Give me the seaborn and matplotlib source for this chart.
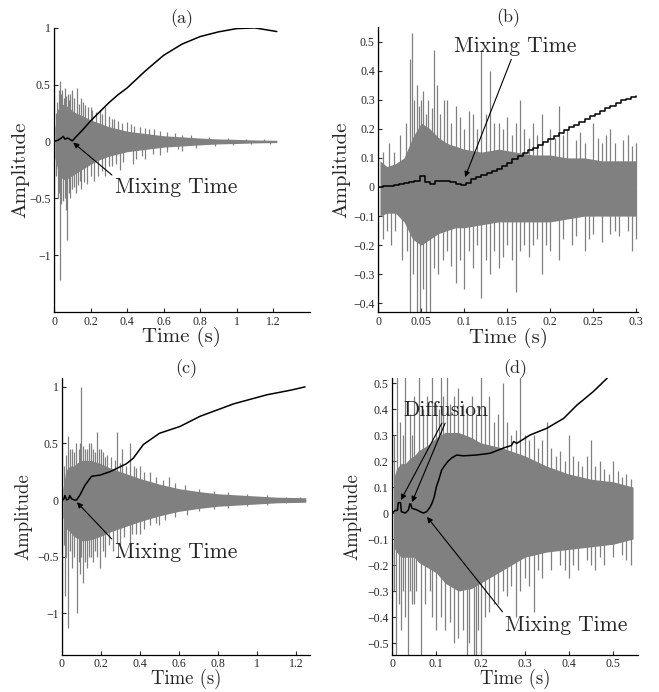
# Room impulse responses with mixing time curves (four panels)
import numpy as np
import pandas as pd
import matplotlib.pyplot as plt
import seaborn as sns

# ---------------- DATA ----------------

# (a) impulse response: dense core envelope
env_a_t = [0.005, 0.02, 0.04, 0.06, 0.08, 0.10, 0.12, 0.15, 0.20, 0.25, 0.30, 0.35, 0.40,
           0.45, 0.50, 0.60, 0.70, 0.80, 0.90, 1.00, 1.10, 1.22]
env_a_hi = [0.12, 0.28, 0.33, 0.32, 0.30, 0.27, 0.25, 0.23, 0.19, 0.16, 0.13, 0.11, 0.09,
            0.08, 0.07, 0.05, 0.04, 0.03, 0.022, 0.018, 0.013, 0.01]
env_a_lo = [-0.15, -0.25, -0.32, -0.34, -0.32, -0.30, -0.28, -0.25, -0.20, -0.16, -0.13, -0.11, -0.09,
            -0.08, -0.07, -0.05, -0.04, -0.03, -0.022, -0.018, -0.013, -0.01]
# (a) single peaks above and below
up_a_t = [0.0, 0.01, 0.015, 0.025, 0.03, 0.033, 0.04, 0.045, 0.052, 0.06, 0.068, 0.075, 0.082,
          0.09, 0.1, 0.11, 0.125, 0.135, 0.145, 0.16, 0.17, 0.185, 0.2, 0.21, 0.23, 0.25, 0.26,
          0.28, 0.3, 0.32, 0.33, 0.35, 0.37, 0.4, 0.42, 0.44, 0.47, 0.5, 0.52, 0.55, 0.58, 0.62,
          0.66, 0.7, 0.75, 0.85, 0.95, 1.05, 1.15]
up_a_v = [1.0, 0.25, 0.35, 0.45, 0.4, 0.53, 0.42, 0.45, 0.38, 0.47, 0.4, 0.42, 0.36,
          0.42, 0.45, 0.38, 0.47, 0.33, 0.38, 0.35, 0.32, 0.3, 0.3, 0.28, 0.26, 0.28, 0.24,
          0.3, 0.22, 0.2, 0.2, 0.18, 0.16, 0.17, 0.15, 0.14, 0.13, 0.12, 0.11, 0.11, 0.09, 0.08,
          0.07, 0.06, 0.055, 0.04, 0.03, 0.025, 0.02]
dn_a_t = [0.0, 0.01, 0.02, 0.025, 0.035, 0.04, 0.05, 0.058, 0.065, 0.07, 0.08, 0.09, 0.1,
          0.11, 0.12, 0.13, 0.14, 0.15, 0.165, 0.18, 0.2, 0.22, 0.24, 0.26, 0.28, 0.3, 0.32,
          0.34, 0.36, 0.38, 0.43, 0.45, 0.48, 0.5, 0.54, 0.58, 0.62, 0.68, 0.7, 0.78, 0.88,
          0.98, 1.08, 1.18]
dn_a_v = [-1.55, -0.3, -0.5, -0.45, -1.22, -0.55, -0.52, -0.5, -0.6, -0.87, -0.45, -0.5, -0.42,
          -0.4, -0.45, -0.38, -0.35, -0.42, -0.36, -0.37, -0.3, -0.35, -0.3, -0.26, -0.3, -0.22, -0.22,
          -0.2, -0.25, -0.18, -0.2, -0.15, -0.13, -0.15, -0.11, -0.12, -0.09, -0.07, -0.08, -0.055, -0.04,
          -0.03, -0.025, -0.02]
# (a) mixing curve
curve_a_t = [0, 0.02, 0.04, 0.05, 0.06, 0.075, 0.09, 0.1, 0.12, 0.15, 0.2, 0.25, 0.3, 0.35,
             0.4, 0.5, 0.6, 0.7, 0.8, 0.9, 1.0, 1.1, 1.22]
curve_a_v = [0, 0.01, 0.03, 0.045, 0.02, 0.03, 0.015, 0.005, 0.04, 0.09, 0.18, 0.26, 0.34, 0.41,
             0.47, 0.62, 0.757, 0.855, 0.922, 0.963, 0.992, 0.998, 0.966]

# (b) first 0.3 s
env_b_t = [0.002, 0.01, 0.02, 0.03, 0.04, 0.05, 0.06, 0.07, 0.08, 0.09, 0.10, 0.12, 0.14,
           0.16, 0.18, 0.20, 0.22, 0.24, 0.26, 0.28, 0.30]
env_b_hi = [0.09, 0.07, 0.08, 0.10, 0.17, 0.22, 0.20, 0.17, 0.15, 0.14, 0.13, 0.12, 0.13,
            0.12, 0.11, 0.11, 0.10, 0.10, 0.09, 0.09, 0.09]
env_b_lo = [-0.10, -0.09, -0.09, -0.12, -0.18, -0.20, -0.18, -0.16, -0.15, -0.14, -0.14, -0.13, -0.12,
            -0.12, -0.12, -0.12, -0.11, -0.10, -0.10, -0.10, -0.10]
up_b_t = [0.0, 0.005, 0.012, 0.018, 0.025, 0.032, 0.037, 0.039, 0.042, 0.045, 0.047, 0.05,
          0.052, 0.055, 0.058, 0.062, 0.065, 0.068, 0.072, 0.076, 0.08, 0.085, 0.09, 0.095,
          0.1, 0.105, 0.11, 0.115, 0.12, 0.125, 0.13, 0.135, 0.14, 0.145, 0.15, 0.155, 0.16,
          0.165, 0.17, 0.175, 0.18, 0.185, 0.19, 0.2, 0.205, 0.21, 0.215, 0.22, 0.23, 0.235,
          0.24, 0.25, 0.255, 0.26, 0.265, 0.27, 0.275, 0.285, 0.29, 0.295, 0.3]
up_b_v = [0.6, 0.12, 0.15, 0.12, 0.18, 0.22, 0.44, 0.53, 0.3, 0.35, 0.28, 0.3,
          0.33, 0.25, 0.3, 0.27, 0.47, 0.35, 0.25, 0.3, 0.3, 0.22, 0.28, 0.24,
          0.2, 0.26, 0.25, 0.2, 0.47, 0.25, 0.4, 0.22, 0.22, 0.2, 0.24, 0.18, 0.22,
          0.3, 0.2, 0.17, 0.22, 0.18, 0.25, 0.2, 0.17, 0.28, 0.18, 0.2, 0.16, 0.19,
          0.15, 0.22, 0.17, 0.15, 0.18, 0.2, 0.15, 0.16, 0.18, 0.14, 0.15]
dn_b_t = [0.0, 0.005, 0.01, 0.015, 0.02, 0.028, 0.033, 0.037, 0.04, 0.045, 0.048, 0.052,
          0.055, 0.06, 0.065, 0.07, 0.075, 0.08, 0.085, 0.09, 0.095, 0.1, 0.105, 0.11, 0.115,
          0.12, 0.125, 0.13, 0.135, 0.14, 0.145, 0.15, 0.155, 0.16, 0.165, 0.17, 0.175, 0.18,
          0.185, 0.19, 0.195, 0.2, 0.21, 0.215, 0.225, 0.23, 0.24, 0.245, 0.25, 0.26, 0.27,
          0.275, 0.28, 0.29, 0.295, 0.3]
dn_b_v = [-0.5, -0.18, -0.15, -0.2, -0.15, -0.25, -0.22, -0.5, -0.3, -0.5, -0.5, -0.35,
          -0.5, -0.5, -0.28, -0.3, -0.25, -0.22, -0.27, -0.33, -0.25, -0.35, -0.22, -0.28, -0.2,
          -0.38, -0.25, -0.3, -0.22, -0.28, -0.24, -0.2, -0.25, -0.36, -0.22, -0.2, -0.24, -0.2,
          -0.18, -0.3, -0.2, -0.22, -0.25, -0.18, -0.2, -0.17, -0.22, -0.18, -0.16, -0.19, -0.16,
          -0.15, -0.17, -0.15, -0.22, -0.18]
curve_b_t = [0, 0.006, 0.012, 0.018, 0.024, 0.030, 0.036, 0.042, 0.048, 0.054, 0.060, 0.066,
             0.072, 0.078, 0.084, 0.090, 0.096, 0.102, 0.108, 0.114, 0.120, 0.126, 0.132,
             0.138, 0.144, 0.150, 0.156, 0.162, 0.168, 0.174, 0.180, 0.186, 0.192, 0.198,
             0.204, 0.210, 0.216, 0.222, 0.228, 0.234, 0.240, 0.246, 0.252, 0.258, 0.264,
             0.270, 0.276, 0.282, 0.288, 0.294, 0.300]
curve_b_v = [0, 0.003, 0.005, 0.008, 0.010, 0.013, 0.016, 0.020, 0.038, 0.018, 0.010, 0.020,
             0.022, 0.020, 0.018, 0.012, 0.006, 0.014, 0.026, 0.034, 0.041, 0.048, 0.055,
             0.062, 0.072, 0.082, 0.095, 0.106, 0.116, 0.126, 0.135, 0.145, 0.156, 0.166,
             0.175, 0.185, 0.196, 0.206, 0.214, 0.224, 0.234, 0.243, 0.252, 0.262, 0.272,
             0.280, 0.290, 0.298, 0.303, 0.308, 0.314]

# (c) second response
env_c_t = [0.005, 0.02, 0.04, 0.06, 0.08, 0.10, 0.12, 0.15, 0.20, 0.25, 0.30, 0.35, 0.40,
           0.50, 0.60, 0.70, 0.80, 0.90, 1.00, 1.10, 1.25]
env_c_hi = [0.10, 0.26, 0.30, 0.30, 0.33, 0.35, 0.35, 0.35, 0.32, 0.28, 0.25, 0.22, 0.19,
            0.14, 0.10, 0.075, 0.055, 0.045, 0.035, 0.025, 0.02]
env_c_lo = [-0.15, -0.25, -0.28, -0.32, -0.34, -0.36, -0.36, -0.35, -0.32, -0.28, -0.25, -0.22, -0.19,
            -0.14, -0.10, -0.075, -0.055, -0.045, -0.035, -0.025, -0.02]
up_c_t = [0.0, 0.01, 0.02, 0.03, 0.04, 0.05, 0.06, 0.07, 0.085, 0.095, 0.1, 0.11, 0.12,
          0.13, 0.14, 0.15, 0.16, 0.17, 0.178, 0.19, 0.2, 0.21, 0.22, 0.23, 0.25, 0.27, 0.283,
          0.3, 0.31, 0.33, 0.35, 0.37, 0.38, 0.4, 0.42, 0.45, 0.48, 0.52, 0.55, 0.58, 0.63,
          0.7, 0.78, 0.85, 0.95, 1.05, 1.15, 1.22]
up_c_v = [1.08, 0.3, 0.4, 0.57, 0.45, 0.45, 0.42, 0.5, 0.45, 0.5, 1.0, 0.48, 0.45,
          0.45, 0.5, 0.5, 0.45, 0.42, 0.6, 0.45, 0.45, 0.42, 0.38, 0.4, 0.38, 0.35, 0.6,
          0.33, 0.45, 0.3, 0.5, 0.3, 0.28, 0.3, 0.25, 0.25, 0.2, 0.18, 0.2, 0.15, 0.13,
          0.1, 0.08, 0.07, 0.05, 0.04, 0.03, 0.03]
dn_c_t = [0.0, 0.01, 0.015, 0.02, 0.032, 0.04, 0.05, 0.06, 0.075, 0.085, 0.09, 0.1, 0.11,
          0.12, 0.13, 0.14, 0.15, 0.16, 0.17, 0.18, 0.195, 0.21, 0.22, 0.24, 0.26, 0.28, 0.3,
          0.32, 0.35, 0.36, 0.38, 0.4, 0.42, 0.45, 0.48, 0.5, 0.53, 0.58, 0.64, 0.7, 0.78,
          0.85, 0.95, 1.05, 1.15]
dn_c_v = [-1.4, -0.4, -0.85, -0.5, -1.13, -0.45, -0.6, -0.5, -1.0, -0.55, -0.65, -0.5, -0.73,
          -0.55, -0.6, -0.5, -0.5, -0.55, -0.45, -0.5, -0.6, -0.45, -0.5, -0.4, -0.45, -0.38, -0.4,
          -0.33, -0.4, -0.3, -0.3, -0.3, -0.26, -0.22, -0.2, -0.22, -0.18, -0.15, -0.13, -0.1, -0.08,
          -0.07, -0.05, -0.04, -0.03]
curve_c_t = [0, 0.01, 0.015, 0.024, 0.035, 0.04, 0.05, 0.065, 0.075, 0.092, 0.118, 0.152,
             0.195, 0.246, 0.33, 0.366, 0.417, 0.5, 0.605, 0.708, 0.88, 1.05, 1.17, 1.246]
curve_c_v = [0, 0.01, 0.04, 0.0, 0.01, 0.04, 0.01, 0.0, 0.0, 0.044, 0.13, 0.21,
             0.22, 0.25, 0.32, 0.37, 0.49, 0.59, 0.65, 0.74, 0.85, 0.93, 0.97, 1.0]

# (d) first 0.55 s of second response
env_d_t = [0.003, 0.01, 0.02, 0.03, 0.04, 0.05, 0.06, 0.08, 0.10, 0.12, 0.15, 0.18, 0.20,
           0.25, 0.30, 0.35, 0.40, 0.45, 0.50, 0.545]
env_d_hi = [0.13, 0.17, 0.19, 0.19, 0.21, 0.22, 0.24, 0.26, 0.29, 0.31, 0.31, 0.29, 0.27,
            0.25, 0.22, 0.18, 0.15, 0.13, 0.12, 0.10]
env_d_lo = [-0.13, -0.15, -0.17, -0.17, -0.17, -0.17, -0.19, -0.21, -0.23, -0.27, -0.30, -0.29, -0.27,
            -0.22, -0.17, -0.15, -0.14, -0.13, -0.12, -0.10]
up_d_t = [0.0, 0.005, 0.012, 0.018, 0.025, 0.03, 0.04, 0.045, 0.05, 0.06, 0.07, 0.08, 0.09,
          0.1, 0.105, 0.11, 0.115, 0.125, 0.13, 0.14, 0.15, 0.16, 0.17, 0.18, 0.19, 0.2, 0.21,
          0.22, 0.23, 0.24, 0.25, 0.26, 0.27, 0.28, 0.29, 0.3, 0.31, 0.32, 0.33, 0.34, 0.35,
          0.36, 0.37, 0.38, 0.39, 0.4, 0.41, 0.42, 0.43, 0.44, 0.45, 0.46, 0.47, 0.48, 0.49,
          0.5, 0.51, 0.52, 0.53, 0.54]
up_d_v = [0.6, 0.3, 0.6, 0.35, 0.3, 0.6, 0.38, 0.3, 0.45, 0.6, 0.4, 0.45, 0.6,
          0.42, 0.4, 0.6, 0.45, 0.55, 0.42, 0.45, 0.48, 0.42, 0.4, 0.45, 0.38, 0.6, 0.4,
          0.45, 0.35, 0.38, 0.5, 0.35, 0.3, 0.32, 0.6, 0.3, 0.28, 0.3, 0.25, 0.28, 0.35,
          0.25, 0.22, 0.24, 0.2, 0.3, 0.22, 0.2, 0.18, 0.22, 0.28, 0.18, 0.2, 0.17, 0.15,
          0.2, 0.16, 0.14, 0.15, 0.13]
dn_d_t = [0.0, 0.005, 0.008, 0.015, 0.02, 0.025, 0.03, 0.035, 0.04, 0.045, 0.05, 0.055,
          0.065, 0.075, 0.085, 0.09, 0.1, 0.11, 0.12, 0.13, 0.14, 0.15, 0.16, 0.17, 0.175,
          0.185, 0.19, 0.195, 0.2, 0.21, 0.22, 0.23, 0.24, 0.25, 0.26, 0.27, 0.28, 0.29, 0.3,
          0.31, 0.32, 0.33, 0.34, 0.36, 0.38, 0.39, 0.4, 0.41, 0.42, 0.44, 0.45, 0.46, 0.47,
          0.48, 0.5, 0.52, 0.53, 0.54]
dn_d_v = [-0.6, -0.3, -0.6, -0.35, -0.45, -0.3, -0.4, -0.6, -0.3, -0.35, -0.35, -0.3,
          -0.6, -0.35, -0.3, -0.4, -0.45, -0.4, -0.45, -0.42, -0.5, -0.48, -0.45, -0.55, -0.5,
          -0.6, -0.6, -0.45, -0.55, -0.4, -0.38, -0.35, -0.35, -0.3, -0.32, -0.28, -0.4, -0.3, -0.25,
          -0.28, -0.38, -0.22, -0.25, -0.22, -0.2, -0.22, -0.25, -0.2, -0.22, -0.18, -0.2, -0.22, -0.17,
          -0.2, -0.17, -0.16, -0.18, -0.2]
curve_d_t = [0, 0.007, 0.012, 0.014, 0.019, 0.021, 0.03, 0.037, 0.04, 0.042, 0.045, 0.056,
             0.065, 0.071, 0.078, 0.085, 0.09, 0.095, 0.1, 0.106, 0.112, 0.12, 0.127, 0.135,
             0.146, 0.161, 0.19, 0.222, 0.252, 0.27, 0.275, 0.282, 0.312, 0.35, 0.388, 0.418,
             0.455, 0.486, 0.5]
curve_d_v = [0, 0.01, 0.01, 0.04, 0.04, 0.005, 0.0, 0.012, 0.035, 0.035, 0.018, 0.012,
             0.004, 0.0, 0.005, 0.02, 0.037, 0.06, 0.1, 0.13, 0.165, 0.185, 0.2, 0.212,
             0.223, 0.22, 0.223, 0.23, 0.25, 0.26, 0.275, 0.268, 0.3, 0.326, 0.364, 0.415,
             0.467, 0.518, 0.545]

# ticks
ticks_ab_x = [0, 0.2, 0.4, 0.6, 0.8, 1, 1.2]
ticks_a_y = [-1, -0.5, 0, 0.5, 1]
ticks_b_x = [0, 0.05, 0.1, 0.15, 0.2, 0.25, 0.3]
ticks_b_y = [-0.4, -0.3, -0.2, -0.1, 0, 0.1, 0.2, 0.3, 0.4, 0.5]
ticks_d_x = [0, 0.1, 0.2, 0.3, 0.4, 0.5]
ticks_d_y = [-0.5, -0.4, -0.3, -0.2, -0.1, 0, 0.1, 0.2, 0.3, 0.4, 0.5]

# ---------------- STYLE ----------------
sns.set_style("ticks")
plt.rcParams['font.family'] = ['Liberation Serif', 'DejaVu Serif']
plt.rcParams['axes.unicode_minus'] = True

GRAY = '#808080'
CM = 'cmr10'


def fmt(v):
    return ('%g' % v).replace('-', '\u2212')


def draw_panel(ax, env_t, hi, lo, ut, uv, dt, dv, ct, cv, steps=False):
    ax.fill_between(env_t, lo, hi, color=GRAY, lw=0, zorder=1)
    ax.vlines(ut, 0, uv, color=GRAY, lw=0.9, zorder=1.5)
    ax.vlines(dt, 0, dv, color=GRAY, lw=0.9, zorder=1.5)
    df = pd.DataFrame({"t": ct, "v": cv})
    kw = dict(drawstyle='steps-post') if steps else {}
    sns.lineplot(data=df, x="t", y="v", ax=ax, color='black', lw=1.1,
                 estimator=None, sort=False, zorder=3, **kw)


fig = plt.figure(figsize=(6.59, 6.92), dpi=100)
ax_a = fig.add_axes([0.082, 0.549, 0.388, 0.411])
ax_b = fig.add_axes([0.574, 0.549, 0.394, 0.412])
ax_c = fig.add_axes([0.094, 0.0535, 0.376, 0.4005])
ax_d = fig.add_axes([0.595, 0.0535, 0.373, 0.4005])

draw_panel(ax_a, env_a_t, env_a_hi, env_a_lo, up_a_t, up_a_v, dn_a_t, dn_a_v, curve_a_t, curve_a_v)
draw_panel(ax_b, env_b_t, env_b_hi, env_b_lo, up_b_t, up_b_v, dn_b_t, dn_b_v, curve_b_t, curve_b_v,
           steps=True)
draw_panel(ax_c, env_c_t, env_c_hi, env_c_lo, up_c_t, up_c_v, dn_c_t, dn_c_v, curve_c_t, curve_c_v)
draw_panel(ax_d, env_d_t, env_d_hi, env_d_lo, up_d_t, up_d_v, dn_d_t, dn_d_v, curve_d_t, curve_d_v)

ax_a.set_xlim(0, 1.4)
ax_a.set_ylim(-1.5, 1.0)
ax_b.set_xlim(0, 0.302)
ax_b.set_ylim(-0.43, 0.55)
ax_c.set_xlim(0, 1.27)
ax_c.set_ylim(-1.37, 1.08)
ax_d.set_xlim(0, 0.556)
ax_d.set_ylim(-0.546, 0.52)

setup = [
    (ax_a, ticks_ab_x, ticks_a_y, '(a)', 15, -0.13, -0.088),
    (ax_b, ticks_b_x, ticks_b_y, '(b)', 15, -0.142, -0.089),
    (ax_c, ticks_ab_x, ticks_a_y, '(c)', 13.5, -0.155, -0.088),
    (ax_d, ticks_d_x, ticks_d_y, '(d)', 13.5, -0.162, -0.088),
]
for ax, xt, yt, title, lab_fs, ylx, xly in setup:
    sns.despine(ax=ax)
    ax.set_xticks(xt, [fmt(v) for v in xt])
    ax.set_yticks(yt, [fmt(v) for v in yt])
    ax.tick_params(direction='in', length=3, width=0.8, labelsize=8.5, pad=2.5)
    for s in ['left', 'bottom']:
        ax.spines[s].set_linewidth(0.9)
        ax.spines[s].set_color('black')
    ax.set_ylabel('Amplitude', family=CM, fontsize=lab_fs, va='center')
    ax.yaxis.set_label_coords(ylx, 0.5)
    ax.set_xlabel('Time (s)', family=CM, fontsize=lab_fs, va='center')
    ax.xaxis.set_label_coords(0.5, xly)
    ax.set_title(title, family=CM, fontsize=13, pad=2)

arrow = dict(arrowstyle='-|>', color='black', lw=0.8, mutation_scale=8, shrinkA=0, shrinkB=0)
TXT = dict(family=CM, fontsize=15.5, ha='center', va='center', zorder=5)

ax_a.annotate('Mixing Time', xy=(0.105, -0.01), xytext=(0.67, -0.405),
              arrowprops=dict(arrow, relpos=(0.0, 1.0)), **TXT)
ax_b.annotate('Mixing Time', xy=(0.101, 0.034), xytext=(0.159, 0.483),
              arrowprops=dict(arrow, relpos=(0.48, 0.0)), **TXT)
ax_c.annotate('Mixing Time', xy=(0.077, -0.02), xytext=(0.585, -0.46),
              arrowprops=dict(arrow, relpos=(0.0, 1.0)), **TXT)
ax_d.annotate('Mixing Time', xy=(0.079, -0.015), xytext=(0.394, -0.43),
              arrowprops=dict(arrow, relpos=(0.0, 1.0)), **TXT)
ax_d.annotate('Diffusion', xy=(0.02, 0.05), xytext=(0.122, 0.396),
              arrowprops=dict(arrow, relpos=(0.49, 0.15)), **TXT)
# second arrow from the same label (text itself drawn only once)
ax_d.annotate('Diffusion', xy=(0.045, 0.042), xytext=(0.122, 0.396), alpha=0.0,
              arrowprops=dict(arrow, relpos=(0.52, 0.15)), family=CM, fontsize=15.5,
              ha='center', va='center')

fig.savefig('out.png', dpi=100)
